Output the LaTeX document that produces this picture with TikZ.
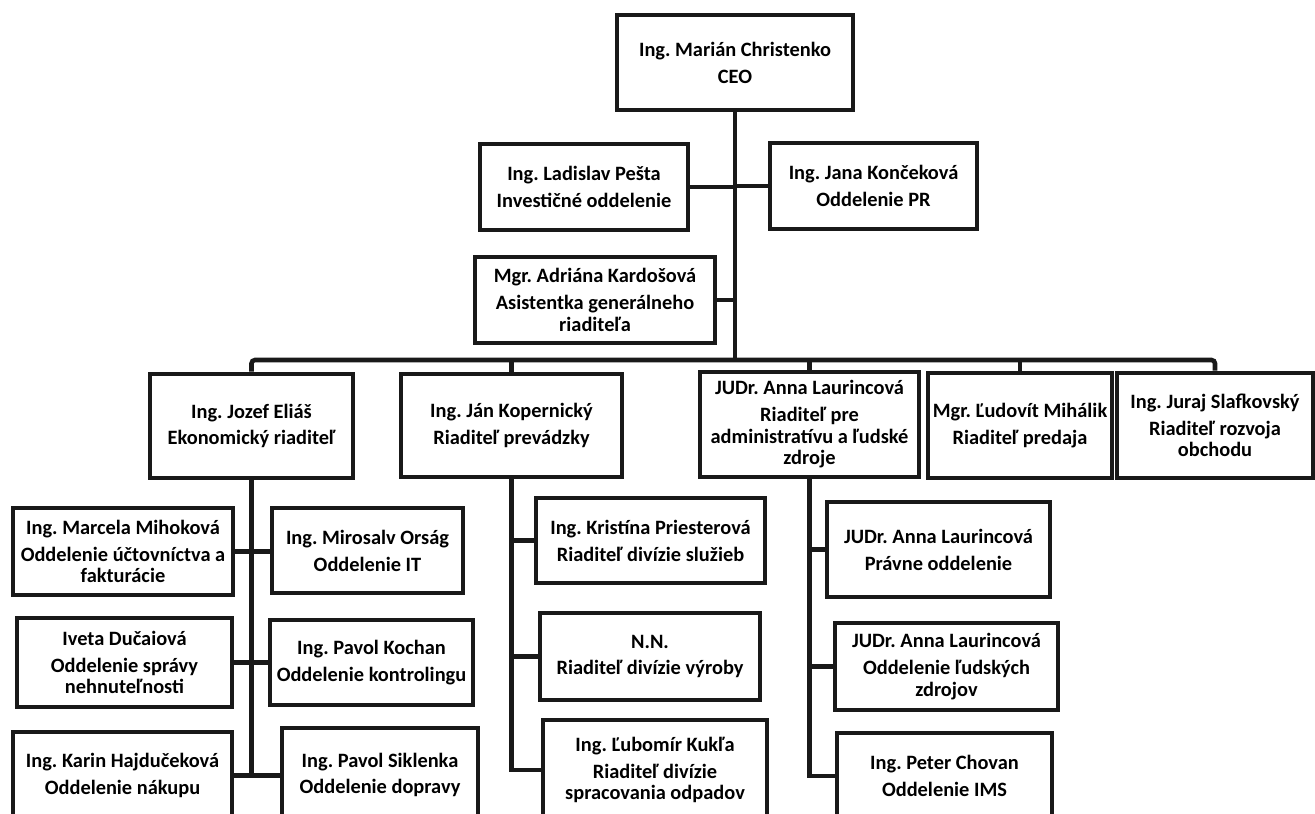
\documentclass[tikz,border=0pt]{standalone}
\usepackage{fontspec}
\setmainfont{Carlito}
\usepackage{tikz}
\usetikzlibrary{positioning}

\newcommand{\orgtext}[2]{#1\\[3pt]#2}

\tikzset{
  unit/.style={draw=black!90, line width=2.6pt, align=center, inner sep=1pt,
    font=\bfseries\frenchspacing\fontsize{11.6}{12.3}\selectfont},
  link/.style={draw=black!90, line width=2.6pt}
}

\begin{document}
\begin{tikzpicture}[x=0.02cm,y=-0.02cm]
\useasboundingbox (0,0) rectangle (1315,814);
\clip (0,0) rectangle (1315,814);

% top
\node [unit, minimum width=4.72cm, minimum height=1.9cm] (ceo) at (735,62.5) {\orgtext{Ing. Marián Christenko}{CEO}};
\node [unit, minimum width=4.16cm, minimum height=1.72cm] (pesta) at (584,187) {\orgtext{Ing. Ladislav Pešta}{Investičné oddelenie}};
\node [unit, minimum width=4.14cm, minimum height=1.72cm] (konc) at (873.5,186) {\orgtext{Ing. Jana Končeková}{Oddelenie PR}};
\node [unit, minimum width=4.8cm, minimum height=1.72cm] (kard) at (595,300) {\orgtext{Mgr. Adriána Kardošová}{Asistentka generálneho\\ riaditeľa}};
\coordinate (bus) at (735,360);

% directors
\node [unit, minimum width=4.06cm, minimum height=2.08cm] (elias) at (251.5,426) {\orgtext{Ing. Jozef Eliáš}{Ekonomický riaditeľ}};
\node [unit, minimum width=4.42cm, minimum height=2.06cm] (kop) at (511.5,425.5) {\orgtext{Ing. Ján Kopernický}{Riaditeľ prevádzky}};
\node [unit, minimum width=4.38cm, minimum height=2.1cm] (laur) at (809.5,424.5) {\orgtext{JUDr. Anna Laurincová}{Riaditeľ pre\\ administratívu a ľudské\\ zdroje}};
\node [unit, minimum width=3.68cm, minimum height=2.1cm] (mih) at (1020,425.5) {\orgtext{Mgr. Ľudovít Mihálik}{Riaditeľ predaja}};
\node [unit, minimum width=3.92cm, minimum height=2.1cm] (slaf) at (1215,425.5) {\orgtext{Ing. Juraj Slafkovský}{Riaditeľ rozvoja\\ obchodu}};

% economic
\node [unit, minimum width=4.4cm, minimum height=1.74cm] (mihok) at (123,551.5) {\orgtext{Ing. Marcela Mihoková}{Oddelenie účtovníctva a\\ fakturácie}};
\node [unit, minimum width=3.82cm, minimum height=1.7cm] (orsag) at (367.5,550.5) {\orgtext{Ing. Mirosalv Orság}{Oddelenie IT}};
\node [unit, minimum width=4.3cm, minimum height=1.78cm] (ducai) at (124.5,662.5) {\orgtext{Iveta Dučaiová}{Oddelenie správy\\ nehnuteľnosti}};
\node [unit, minimum width=4.06cm, minimum height=1.7cm] (kochan) at (371.5,662.5) {\orgtext{Ing. Pavol Kochan}{Oddelenie kontrolingu}};
\node [unit, minimum width=4.38cm, minimum height=1.74cm] (hajd) at (122.5,775.5) {\orgtext{Ing. Karin Hajdučeková}{Oddelenie nákupu}};
\node [unit, minimum width=3.92cm, minimum height=1.88cm] (sikl) at (380,775) {\orgtext{Ing. Pavol Siklenka}{Oddelenie dopravy}};

% operations
\node [unit, minimum width=4.58cm, minimum height=1.7cm] (pries) at (650.5,540.5) {\orgtext{Ing. Kristína Priesterová}{Riaditeľ divízie služieb}};
\node [unit, minimum width=4.4cm, minimum height=1.74cm] (nn) at (650,656.5) {\orgtext{N.N.}{Riaditeľ divízie výroby}};
\node [unit, minimum width=4.48cm, minimum height=2cm] (kukla) at (655,770) {\orgtext{Ing. Ľubomír Kukľa}{Riaditeľ divízie\\ spracovania odpadov}};

% administration
\node [unit, minimum width=4.46cm, minimum height=1.9cm] (pravne) at (938.5,549.5) {\orgtext{JUDr. Anna Laurincová}{Právne oddelenie}};
\node [unit, minimum width=4.46cm, minimum height=1.74cm] (ludske) at (946.5,666.5) {\orgtext{JUDr. Anna Laurincová}{Oddelenie ľudských\\ zdrojov}};
\node [unit, minimum width=4.3cm, minimum height=1.72cm] (chovan) at (944.5,776) {\orgtext{Ing. Peter Chovan}{Oddelenie IMS}};

% lines
\draw [link] (ceo.south) -- (ceo.south |- bus);
\draw [link] (pesta.east) -- (pesta.east -| ceo.south);
\draw [link] (konc.west) -- (konc.west -| ceo.south);
\draw [link] (kard.east) -- (kard.east -| ceo.south);
\draw [link, rounded corners=2pt] (elias.north) |- (bus) -| (slaf.north);
\draw [link] (kop.north) -- (kop.north |- bus);
\draw [link] (laur.north) -- (laur.north |- bus);
\draw [link] (mih.north) -- (mih.north |- bus);

\draw [link] (elias.south) -- (elias.south |- hajd.east);
\draw [link] (mihok.east) -- (mihok.east -| orsag.west);
\draw [link] (ducai.east) -- (ducai.east -| kochan.west);
\draw [link] (hajd.east) -- (hajd.east -| sikl.west);

\draw [link] (kop.south) |- (kukla.west);
\draw [link] (pries.west) -- (pries.west -| kop.south);
\draw [link] (nn.west) -- (nn.west -| kop.south);

\draw [link] (laur.south) |- (chovan.west);
\draw [link] (pravne.west) -- (pravne.west -| laur.south);
\draw [link] (ludske.west) -- (ludske.west -| laur.south);

\end{tikzpicture}
\end{document}
